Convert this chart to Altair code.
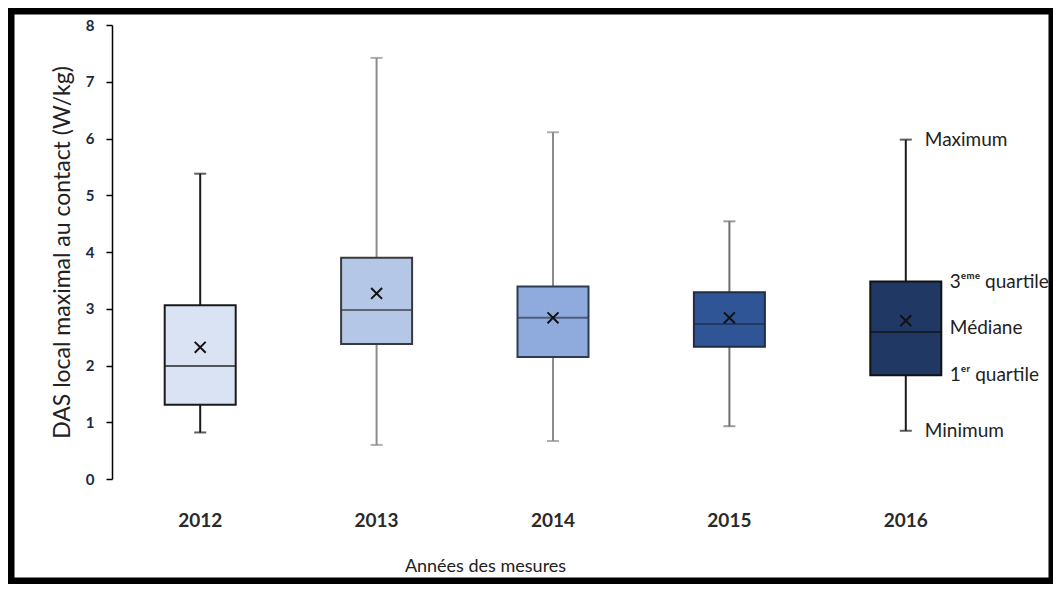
import altair as alt
import pandas as pd

years = ["2012", "2013", "2014", "2015", "2016"]
mins = [0.82, 0.60, 0.67, 0.93, 0.85]
q1s = [1.31, 2.38, 2.15, 2.33, 1.83]
medians = [1.99, 2.98, 2.84, 2.73, 2.59]
q3s = [3.06, 3.90, 3.39, 3.29, 3.48]
maxs = [5.38, 7.42, 6.11, 4.54, 5.98]
means = [2.32, 3.27, 2.84, 2.84, 2.79]

fills = ["#DAE3F3", "#B4C7E7", "#8FAADC", "#2F5597", "#1F3864"]
whisker_colors = ["#1a1a1a", "#8c8c8c", "#8c8c8c", "#6f6f6f", "#1a1a1a"]
box_strokes = ["#1a1a1a", "#3a3a3a", "#2e3b55", "#1f2d4a", "#111111"]

outer_labels = ["Maximum", "Minimum"]
inner_labels = ["3ᵉᵐᵉ quartile", "Médiane", "1ᵉʳ quartile"]

FONT = "Lato"

df = pd.DataFrame({
    "year": years, "min": mins, "q1": q1s, "median": medians,
    "q3": q3s, "max": maxs, "mean": means,
})

last = len(years) - 1
ann_outer = pd.DataFrame({
    "year": [years[last]] * 2,
    "value": [maxs[last], mins[last]],
    "label": outer_labels,
})
ann_inner = pd.DataFrame({
    "year": [years[last]] * 3,
    "value": [q3s[last], medians[last] + 0.07, q1s[last]],
    "label": inner_labels,
})

xenc = alt.X("year:N", title="Années des mesures", sort=years,
             scale=alt.Scale(paddingInner=0, paddingOuter=0),
             axis=alt.Axis(labelAngle=0, domain=False, ticks=False, labelPadding=32,
                           labelFontSize=19, labelFontWeight="bold", labelColor="#2a2a2a",
                           titleFontSize=18, titleFontWeight="normal", titleColor="#222222",
                           titlePadding=27, titleX=373, labelFont=FONT, titleFont=FONT))
yscale = alt.Scale(domain=[0, 8], nice=False)
yaxis = alt.Axis(values=[0, 1, 2, 3, 4, 5, 6, 7, 8], format="d", grid=False,
                 domainColor="#000000", domainWidth=1.5, tickColor="#000000",
                 tickSize=6, tickWidth=1.5, labelPadding=12, labelFontSize=15,
                 labelFontWeight="bold", labelColor="#1a2a40", titleFontSize=23,
                 titleFontWeight="normal", titleColor="#222222", titlePadding=11,
                 labelFont=FONT, titleFont=FONT)

wcolor = alt.Color("year:N", scale=alt.Scale(domain=years, range=whisker_colors), legend=None)
fcolor = alt.Color("year:N", scale=alt.Scale(domain=years, range=fills), legend=None)
scolor = alt.Stroke("year:N", scale=alt.Scale(domain=years, range=box_strokes), legend=None)
mcolor = alt.Color("year:N", scale=alt.Scale(domain=years, range=box_strokes), legend=None)

base = alt.Chart(df)
xs = alt.X("year:N", sort=years)

whisk = base.mark_rule(strokeWidth=2).encode(
    x=xenc,
    y=alt.Y("min:Q", scale=yscale, axis=yaxis, title="DAS local maximal au contact (W/kg)"),
    y2="max:Q",
    color=wcolor,
)
caps_max = base.mark_tick(size=12, thickness=2).encode(x=xs, y=alt.Y("max:Q"), color=wcolor)
caps_min = base.mark_tick(size=12, thickness=2).encode(x=xs, y=alt.Y("min:Q"), color=wcolor)
box = base.mark_bar(width=71, strokeWidth=2).encode(
    x=xs, y=alt.Y("q1:Q"), y2="q3:Q", fill=fcolor, stroke=scolor)
med = base.mark_tick(size=71, thickness=2).encode(x=xs, y=alt.Y("median:Q"), color=mcolor)
meanpt = base.mark_point(shape="M-1,-1L1,1M-1,1L1,-1", filled=False, size=120,
                         strokeWidth=2, color="#111111", opacity=1).encode(
    x=xs, y=alt.Y("mean:Q"))

t_outer = alt.Chart(ann_outer).mark_text(align="left", baseline="middle", fontSize=19,
                                         dx=19, font=FONT, color="#222222").encode(
    x=xs, y=alt.Y("value:Q"), text="label:N")
t_inner = alt.Chart(ann_inner).mark_text(align="left", baseline="middle", fontSize=19,
                                         dx=44, font=FONT, color="#222222").encode(
    x=xs, y=alt.Y("value:Q"), text="label:N")

frame = alt.Chart(pd.DataFrame({"a": [0]})).mark_rect(
    fill=None, stroke="#000000", strokeWidth=7).encode(
    x=alt.value(-101), x2=alt.value(940), y=alt.value(-14), y2=alt.value(556))

chart = alt.layer(whisk, caps_max, caps_min, box, med, meanpt, t_outer, t_inner, frame).resolve_scale(
    color="independent", stroke="independent").properties(
    width=882, height=454,
    autosize=alt.AutoSizeParams(type="none"),
    padding={"left": 104, "top": 17, "right": 59, "bottom": 105},
    background="white",
).configure_view(stroke=None)

chart.save("out.html", embed_options={"renderer": "svg", "actions": False})
